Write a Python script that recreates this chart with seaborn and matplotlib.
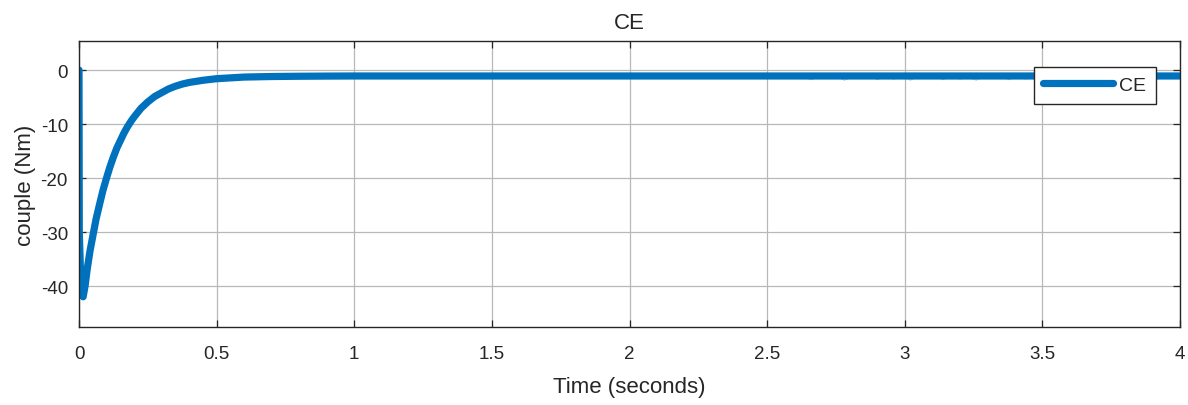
import matplotlib
matplotlib.use("Agg")
import matplotlib.pyplot as plt
import pandas as pd
import seaborn as sns

# Electromagnetic torque response (Nm) over time (s)
time_s = [0.0, 0.001, 0.008, 0.015, 0.022, 0.03, 0.04, 0.05, 0.062, 0.075, 0.087,
          0.1, 0.112, 0.125, 0.137, 0.15, 0.162, 0.175, 0.19, 0.2, 0.225, 0.25,
          0.275, 0.3, 0.325, 0.35, 0.375, 0.4, 0.45, 0.5, 0.55, 0.6, 0.7, 0.8,
          0.9, 1.0, 1.25, 1.5, 1.75, 2.0, 2.25, 2.5, 2.75, 3.0, 3.25, 3.5, 3.75, 4.0]
torque = [0.0, -30.0, -41.5, -42.0, -40.0, -36.8, -33.5, -30.8, -27.6, -24.8, -22.3,
          -20.0, -18.0, -16.1, -14.5, -13.1, -11.8, -10.6, -9.4, -8.7, -7.1, -5.9,
          -4.9, -4.2, -3.5, -3.0, -2.6, -2.3, -1.9, -1.6, -1.45, -1.3, -1.2, -1.15,
          -1.12, -1.1, -1.1, -1.1, -1.1, -1.1, -1.1, -1.1, -1.1, -1.1, -1.1, -1.1,
          -1.1, -1.1]

# Small ripple on the steady-state torque after 2.6 s
ripple_t = [2.60, 2.63, 2.66, 2.69, 2.72, 2.75, 2.78, 2.81, 2.84, 2.87, 2.90, 2.93,
            2.96, 2.99, 3.02, 3.05, 3.08, 3.11, 3.14, 3.17, 3.20, 3.23, 3.26, 3.29,
            3.32, 3.35, 3.38, 3.41, 3.44, 3.47, 3.50, 3.53, 3.56, 3.59, 3.62, 3.65,
            3.68, 3.71, 3.74, 3.77, 3.80, 3.83, 3.86, 3.89, 3.92, 3.95, 3.98, 4.00]
ripple_v = [-1.1, -1.3, -1.8, -1.2, -1.6, -1.0, -1.9, -1.3, -1.5, -0.9, -1.8, -1.2,
            -1.7, -1.0, -1.9, -1.1, -1.6, -1.2, -1.8, -0.9, -1.7, -1.3, -1.9, -1.0,
            -1.6, -1.2, -1.8, -1.1, -1.7, -0.9, -1.9, -1.2, -1.6, -1.0, -1.8, -1.3,
            -1.7, -1.1, -1.9, -1.0, -1.6, -1.2, -1.8, -1.1, -1.7, -1.0, -1.6, -1.1]

x_ticks = [0, 0.5, 1, 1.5, 2, 2.5, 3, 3.5, 4]
x_tick_labels = ["0", "0.5", "1", "1.5", "2", "2.5", "3", "3.5", "4"]
y_ticks = [0, -10, -20, -30, -40]

sns.set_theme(style="white")
plt.rcParams["font.family"] = ["Liberation Sans", "DejaVu Sans"]

blue = "#0072BD"
grid_c = "#b8b8b8"
text_c = "#262626"

main = pd.DataFrame({"t": time_s, "CE": torque})
rip = pd.DataFrame({"t": ripple_t, "v": ripple_v})

fig = plt.figure(figsize=(11.88, 4.06), dpi=100)
ax = fig.add_axes([0.0665, 0.192, 0.9268, 0.7035])

# faint ripple wisps under the thick trace
sns.lineplot(data=rip, x="t", y="v", ax=ax, color="#5aa6dc", linewidth=0.7,
             alpha=0.55, estimator=None, legend=False)
sns.lineplot(data=main, x="t", y="CE", ax=ax, color=blue, linewidth=5.2,
             label="CE", estimator=None, sort=False)

ax.set_xlim(0, 4)
ax.set_ylim(-47.6, 5.3)
ax.set_xticks(x_ticks)
ax.set_xticklabels(x_tick_labels)
ax.set_yticks(y_ticks)
ax.set_yticklabels([str(v) for v in y_ticks])

ax.grid(True, color=grid_c, linewidth=0.9)
ax.set_axisbelow(True)
for s in ax.spines.values():
    s.set_color("#262626")
    s.set_linewidth(1.0)
ax.tick_params(direction="in", length=5, width=0.9, colors=text_c,
               labelsize=13.5, top=True, right=True, bottom=True, left=True)
ax.tick_params(axis="x", pad=13)
ax.tick_params(axis="y", pad=8)

ax.set_xlabel("Time (seconds)", fontsize=16, color=text_c, labelpad=10)
ax.set_ylabel("couple (Nm)", fontsize=16, color=text_c, labelpad=3)
ax.set_title("CE", fontsize=16, color=text_c, pad=10)

leg = ax.legend(loc="upper right", bbox_to_anchor=(0.978, 0.912), fontsize=14,
                frameon=True, fancybox=False, framealpha=1.0, handlelength=3.6,
                borderpad=0.5, handletextpad=0.3, borderaxespad=0)
leg.get_frame().set_edgecolor("#262626")
leg.get_frame().set_facecolor("white")
leg.get_frame().set_linewidth(1.0)
for ln in leg.get_lines():
    ln.set_linewidth(5.2)

fig.savefig("out.png", dpi=100, facecolor="white")
